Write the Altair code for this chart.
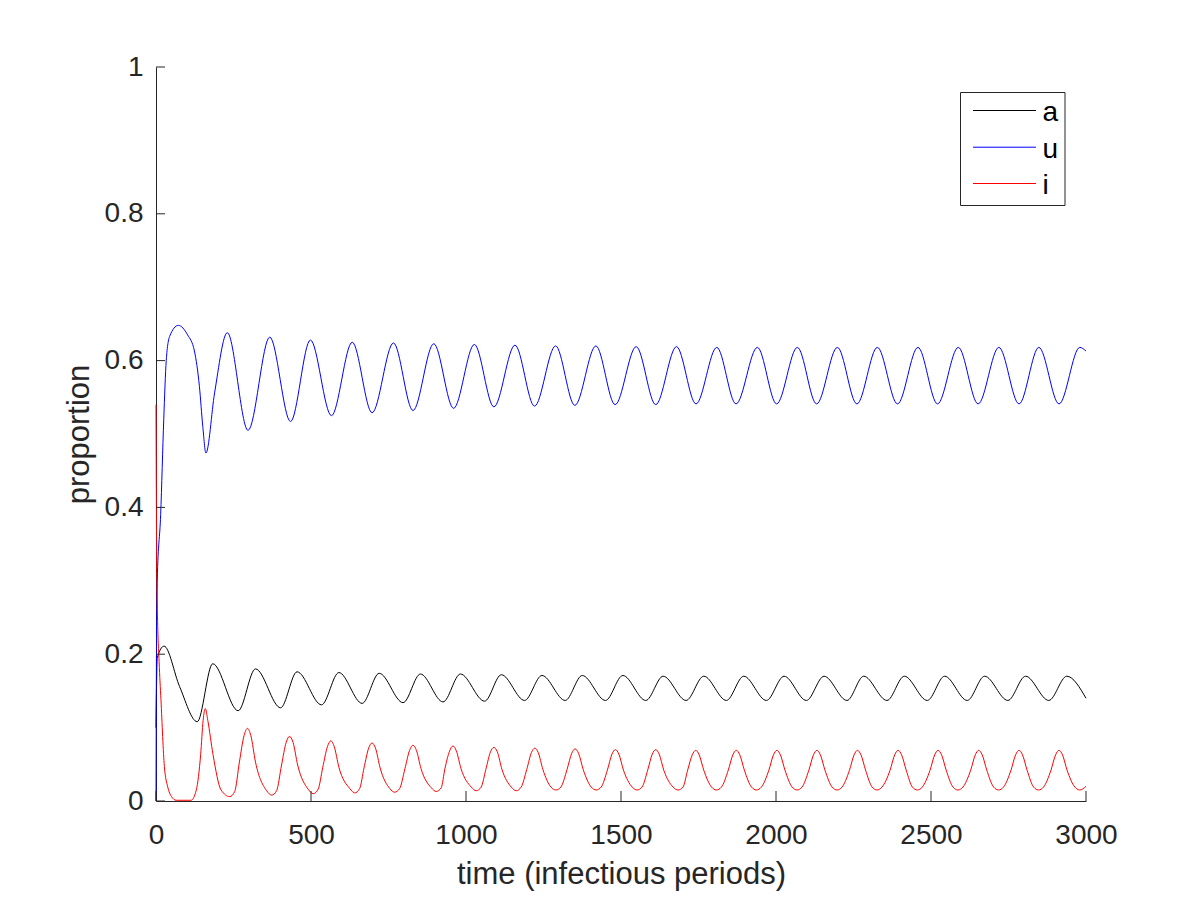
import altair as alt
import pandas as pd

# ---- data ----
series_names = ["a", "u", "i"]
series_colors = ["#000000", "#0000FF", "#FF0000"]

a_t = [0, 4, 26, 76, 133, 183, 265, 321, 402, 455, 534, 590, 665, 720, 797, 853, 926, 982,
       1060, 1114, 1189, 1245, 1320, 1375, 1450, 1506, 1580, 1636, 1710, 1767, 1840, 1896,
       1969, 2026, 2098, 2155, 2229, 2283, 2358, 2414, 2488, 2544, 2617, 2673, 2748, 2805,
       2880, 2938, 3000]
a_v = [0.10, 0.195, 0.211, 0.156, 0.108, 0.187, 0.123, 0.180, 0.127, 0.176, 0.131, 0.175,
       0.133, 0.174, 0.134, 0.173, 0.135, 0.173, 0.136, 0.172, 0.137, 0.171, 0.137, 0.171,
       0.137, 0.171, 0.137, 0.170, 0.137, 0.170, 0.137, 0.170, 0.137, 0.170, 0.137, 0.170,
       0.137, 0.170, 0.137, 0.170, 0.137, 0.170, 0.137, 0.170, 0.137, 0.170, 0.137, 0.170,
       0.140]

u_t = [0, 1.5, 4, 15, 25, 33, 44, 72, 102, 124, 140, 151, 161, 189, 230, 297, 367, 434, 498,
       566, 633, 697, 766, 829, 896, 960, 1027, 1090, 1158, 1221, 1289, 1351, 1419, 1481,
       1549, 1612, 1679, 1742, 1809, 1871, 1940, 2002, 2069, 2131, 2198, 2261, 2327, 2392,
       2458, 2521, 2588, 2652, 2719, 2784, 2848, 2913, 2980, 3000]
u_v = [0.0, 0.20, 0.30, 0.39, 0.52, 0.60, 0.633, 0.648, 0.635, 0.613, 0.565, 0.51, 0.474,
       0.556, 0.638, 0.505, 0.632, 0.517, 0.628, 0.525, 0.625, 0.529, 0.624, 0.532, 0.623,
       0.535, 0.622, 0.537, 0.621, 0.538, 0.620, 0.539, 0.620, 0.540, 0.619, 0.540, 0.619,
       0.541, 0.618, 0.541, 0.618, 0.541, 0.618, 0.541, 0.618, 0.541, 0.618, 0.541, 0.618,
       0.541, 0.618, 0.541, 0.618, 0.541, 0.618, 0.541, 0.618, 0.613]

i_t = ([0, 1.5, 4, 10, 16, 27, 38, 50, 65, 113, 130, 144, 152, 159, 167, 184, 210, 238, 254]
       + [269, 284, 295, 306, 321, 357, 373, 389]
       + [405, 420, 431, 442, 457, 491, 507, 523]
       + [538, 553, 564, 575, 590, 625, 641, 657]
       + [671, 686, 697, 708, 723, 754, 770, 786]
       + [803, 818, 829, 840, 855, 888, 904, 920]
       + [932, 947, 958, 969, 984, 1017, 1033, 1049]
       + [1064, 1079, 1090, 1101, 1116, 1146, 1162, 1178]
       + [1196, 1211, 1222, 1233, 1248, 1274, 1290, 1306]
       + [1326, 1341, 1352, 1363, 1378, 1404, 1420, 1436]
       + [1456, 1471, 1482, 1493, 1508, 1536, 1552, 1568]
       + [1586, 1601, 1612, 1623, 1638, 1668, 1684, 1700]
       + [1715, 1730, 1741, 1752, 1767, 1792, 1808, 1824]
       + [1846, 1861, 1872, 1883, 1898, 1921, 1937, 1953]
       + [1977, 1992, 2003, 2014, 2029, 2052, 2068, 2084]
       + [2106, 2121, 2132, 2143, 2158, 2181, 2197, 2213]
       + [2237, 2252, 2263, 2274, 2289, 2310, 2326, 2342]
       + [2368, 2383, 2394, 2405, 2420, 2440, 2456, 2472]
       + [2497, 2512, 2523, 2534, 2549, 2571, 2587, 2603]
       + [2628, 2643, 2654, 2665, 2680, 2702, 2718, 2734]
       + [2758, 2773, 2784, 2795, 2810, 2831, 2847, 2863]
       + [2887, 2902, 2913, 2924, 2939, 2964, 2980, 3000])
i_v = ([0.54, 0.38, 0.27, 0.19, 0.138, 0.047, 0.019, 0.006, 0.001, 0.001, 0.015, 0.063,
        0.110, 0.126, 0.110, 0.063, 0.015, 0.006, 0.013]
       + [0.053, 0.089, 0.099, 0.089, 0.053, 0.014, 0.008, 0.014]
       + [0.049, 0.080, 0.088, 0.080, 0.049, 0.016, 0.010, 0.016]
       + [0.046, 0.074, 0.082, 0.074, 0.046, 0.017, 0.011, 0.017]
       + [0.045, 0.072, 0.079, 0.072, 0.045, 0.017, 0.012, 0.017]
       + [0.044, 0.069, 0.076, 0.069, 0.044, 0.018, 0.013, 0.018]
       + [0.044, 0.068, 0.075, 0.068, 0.044, 0.019, 0.014, 0.019]
       + [0.043, 0.067, 0.073, 0.067, 0.043, 0.019, 0.014, 0.019]
       + [0.043, 0.066, 0.072, 0.066, 0.043, 0.019, 0.015, 0.019]
       + [0.043, 0.065, 0.071, 0.065, 0.043, 0.019, 0.015, 0.019]
       + [0.042, 0.064, 0.070, 0.064, 0.042, 0.019, 0.015, 0.019]
       + [0.042, 0.064, 0.070, 0.064, 0.042, 0.019, 0.015, 0.019]
       + [0.042, 0.063, 0.069, 0.063, 0.042, 0.019, 0.015, 0.019]
       + [0.042, 0.063, 0.069, 0.063, 0.042, 0.019, 0.015, 0.019]
       + [0.042, 0.063, 0.069, 0.063, 0.042, 0.019, 0.015, 0.019]
       + [0.042, 0.063, 0.069, 0.063, 0.042, 0.019, 0.015, 0.019]
       + [0.042, 0.063, 0.069, 0.063, 0.042, 0.019, 0.015, 0.019]
       + [0.042, 0.063, 0.069, 0.063, 0.042, 0.019, 0.015, 0.019]
       + [0.042, 0.063, 0.069, 0.063, 0.042, 0.019, 0.015, 0.019]
       + [0.042, 0.063, 0.069, 0.063, 0.042, 0.019, 0.015, 0.019]
       + [0.042, 0.063, 0.069, 0.063, 0.042, 0.019, 0.015, 0.019]
       + [0.042, 0.063, 0.069, 0.063, 0.042, 0.019, 0.015, 0.020])

x_ticks = [0, 500, 1000, 1500, 2000, 2500, 3000]
y_ticks = [0, 0.2, 0.4, 0.6, 0.8, 1.0]

x_title = "time (infectious periods)"
y_title = "proportion"

# ---- build tables ----
rows = []
for name, ts, vs in [("a", a_t, a_v), ("u", u_t, u_v), ("i", i_t, i_v)]:
    for t, v in zip(ts, vs):
        rows.append({"series": name, "t": t, "v": v})
df = pd.DataFrame(rows)

W, H = 930, 734
FONT = "Liberation Sans"
AX = "#262626"

xscale = alt.Scale(domain=[0, 3000], nice=False, zero=False)
yscale = alt.Scale(domain=[0, 1], nice=False, zero=False)

x_axis = alt.Axis(values=x_ticks, format="d", grid=False, ticks=False, tickSize=0,
                  domainColor=AX, domainWidth=1, labelColor=AX, labelFont=FONT,
                  labelFontSize=28, labelPadding=42, labelBaseline="alphabetic",
                  labelFlush=False, labelOverlap=False,
                  title=x_title, titleFont=FONT, titleFontSize=31, titleFontWeight="normal",
                  titleColor=AX, titleX=W / 2, titleY=82, titleAlign="center",
                  titleBaseline="alphabetic")
y_axis = alt.Axis(values=y_ticks, format="~g", grid=False, ticks=False, tickSize=0,
                  domainColor=AX, domainWidth=1, labelColor=AX, labelFont=FONT,
                  labelFontSize=28, labelPadding=13, labelBaseline="middle",
                  labelFlush=False, labelOverlap=False,
                  title=y_title, titleFont=FONT, titleFontSize=31, titleFontWeight="normal",
                  titleColor=AX, titleX=-68, titleY=H / 2, titleAlign="center",
                  titleBaseline="alphabetic", titleAngle=270)

layers = []
for name, col in zip(series_names, series_colors):
    layers.append(
        alt.Chart(df).transform_filter(alt.datum.series == name)
        .mark_line(color=col, strokeWidth=1, interpolate="monotone")
        .encode(
            x=alt.X("t:Q", scale=xscale, axis=x_axis),
            y=alt.Y("v:Q", scale=yscale, axis=y_axis),
        )
    )

# inward tick marks (MATLAB style)
xt = alt.Chart(pd.DataFrame({"t": x_ticks})).mark_rule(color=AX, strokeWidth=1).encode(
    x=alt.X("t:Q", scale=xscale, axis=x_axis), y=alt.value(H), y2=alt.value(H - 10))
yt = alt.Chart(pd.DataFrame({"v": y_ticks})).mark_rule(color=AX, strokeWidth=1).encode(
    y=alt.Y("v:Q", scale=yscale, axis=y_axis), x=alt.value(0), x2=alt.value(9))
layers += [xt, yt]

# legend box
one = pd.DataFrame({"k": [0]})
layers.append(alt.Chart(one).mark_rect(fill="white", stroke=AX, strokeWidth=1).encode(
    x=alt.value(804.5), x2=alt.value(909), y=alt.value(25.5), y2=alt.value(138.5)))
row_y = [43.5, 80.2, 116.5]
for name, col, ry in zip(series_names, series_colors, row_y):
    layers.append(alt.Chart(one).mark_rule(color=col, strokeWidth=1).encode(
        x=alt.value(817), x2=alt.value(880), y=alt.value(ry)))
    layers.append(alt.Chart(one).mark_text(text=name, font=FONT, fontSize=28, color="#000000",
                                           align="left", baseline="alphabetic").encode(
        x=alt.value(886.5), y=alt.value(ry + 10.5)))

chart = alt.layer(*layers).properties(
    width=W, height=H,
    padding={"left": 148, "top": 59, "right": 106, "bottom": 91},
    autosize=alt.AutoSizeParams(type="none"),
    background="white",
).configure_view(strokeWidth=0)

chart.save("out.html", embed_options={"renderer": "svg", "actions": False})
